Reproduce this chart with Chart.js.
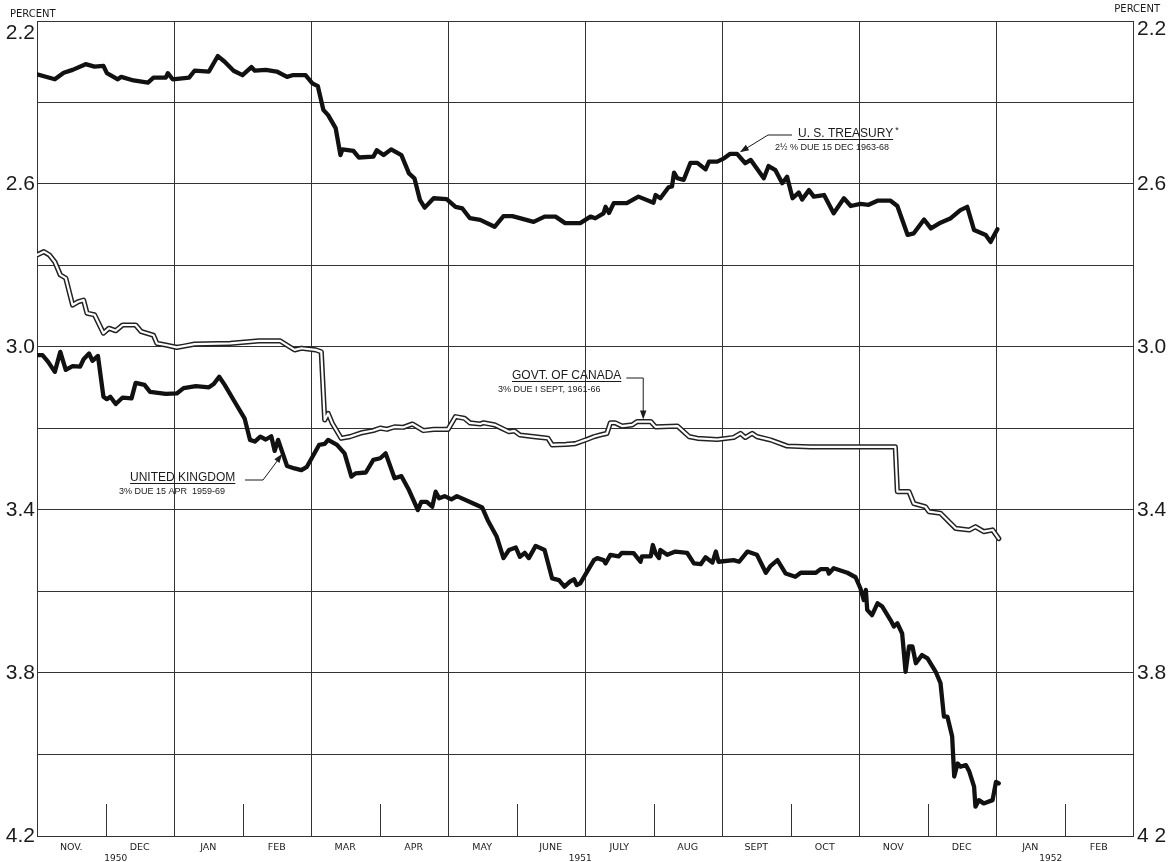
<!DOCTYPE html>
<html><head><meta charset="utf-8">
<script src="https://cdn.jsdelivr.net/npm/chart.js@4.4.1/dist/chart.umd.min.js"></script>
<style>html,body{margin:0;padding:0;background:#fff}#wrap{width:1176px;height:862px;position:relative}</style>
</head><body><div id="wrap"><canvas id="c"></canvas></div>
<script>
// months counted from 1 Nov 1950 (0) to 1 Mar 1952 (16)
const monthLabels = ['NOV.','DEC','JAN','FEB','MAR','APR','MAY','JUNE','JULY','AUG','SEPT','OCT','NOV','DEC','JAN','FEB'];
const yearLabels = ['1950','1951','1952'];
const yGridValues = [2.2,2.4,2.6,2.8,3.0,3.2,3.4,3.6,3.8,4.0,4.2];
const yLeftLabels = ['2.2','2.6','3.0','3.4','3.8','4.2'];
const yRightLabels = ['2.2','2.6','3.0','3.4','3.8','4 2'];
const xGridMonths = [0,2,4,6,8,10,12,14,16];

const usMonths = [0,0.26,0.39,0.52,0.71,0.84,0.97,1.02,1.18,1.23,1.41,1.62,1.70,1.88,1.91,1.98,2.22,2.30,2.51,2.64,2.74,2.87,3.00,3.13,3.18,3.34,3.50,3.65,3.73,3.92,4.02,4.10,4.18,4.25,4.36,4.43,4.46,4.62,4.70,4.91,4.96,5.06,5.17,5.32,5.43,5.51,5.59,5.66,5.79,5.98,6.11,6.21,6.32,6.47,6.68,6.81,6.94,7.25,7.41,7.57,7.71,7.93,8.08,8.15,8.27,8.30,8.35,8.42,8.61,8.78,9.00,9.03,9.10,9.22,9.27,9.30,9.35,9.44,9.54,9.64,9.76,9.81,9.93,10.03,10.12,10.22,10.34,10.42,10.61,10.68,10.78,10.88,10.95,11.03,11.12,11.17,11.27,11.34,11.49,11.63,11.78,11.88,12.02,12.14,12.27,12.46,12.56,12.71,12.80,12.95,13.05,13.19,13.34,13.48,13.58,13.68,13.85,13.92,14.02];
const usYield = [2.331,2.343,2.327,2.320,2.306,2.312,2.310,2.328,2.343,2.337,2.346,2.351,2.339,2.339,2.328,2.343,2.339,2.322,2.324,2.286,2.300,2.322,2.333,2.313,2.322,2.320,2.324,2.337,2.333,2.333,2.353,2.360,2.418,2.431,2.463,2.529,2.515,2.519,2.535,2.533,2.517,2.529,2.515,2.529,2.574,2.586,2.639,2.658,2.635,2.637,2.656,2.660,2.684,2.688,2.705,2.679,2.679,2.693,2.680,2.680,2.696,2.696,2.680,2.684,2.672,2.656,2.671,2.647,2.647,2.631,2.646,2.627,2.635,2.608,2.606,2.572,2.586,2.590,2.548,2.548,2.564,2.545,2.545,2.537,2.526,2.526,2.549,2.541,2.586,2.556,2.566,2.598,2.582,2.635,2.621,2.638,2.615,2.631,2.627,2.672,2.635,2.654,2.649,2.651,2.641,2.641,2.654,2.725,2.721,2.687,2.709,2.695,2.684,2.664,2.656,2.713,2.725,2.742,2.711];

const caMonths = [0,0.10,0.18,0.26,0.34,0.42,0.52,0.60,0.68,0.73,0.84,0.97,1.05,1.15,1.25,1.44,1.52,1.70,1.75,1.88,2.04,2.14,2.30,2.82,3.24,3.55,3.76,3.86,4.07,4.15,4.20,4.25,4.31,4.44,4.57,4.75,4.91,5.01,5.11,5.22,5.35,5.48,5.64,5.79,6.00,6.11,6.24,6.32,6.47,6.52,6.68,6.89,6.97,7.05,7.25,7.46,7.52,7.72,7.86,8.01,8.13,8.22,8.32,8.37,8.44,8.54,8.69,8.76,8.96,9.03,9.35,9.52,9.64,9.93,10.08,10.17,10.27,10.34,10.44,10.51,10.71,10.95,11.29,12.53,12.56,12.73,12.80,12.97,13.02,13.19,13.41,13.61,13.70,13.82,13.95,14.04];
const caYield = [2.774,2.766,2.774,2.791,2.823,2.831,2.897,2.889,2.885,2.917,2.921,2.966,2.954,2.960,2.946,2.946,2.962,2.971,2.991,2.995,3.001,2.998,2.993,2.991,2.985,2.985,3.007,3.003,3.007,3.012,3.179,3.163,3.187,3.224,3.220,3.210,3.205,3.199,3.202,3.196,3.197,3.189,3.205,3.202,3.202,3.171,3.175,3.186,3.189,3.186,3.191,3.208,3.206,3.216,3.220,3.224,3.240,3.239,3.237,3.228,3.220,3.216,3.212,3.186,3.186,3.194,3.191,3.183,3.183,3.196,3.194,3.220,3.224,3.227,3.224,3.222,3.212,3.222,3.212,3.220,3.228,3.243,3.245,3.245,3.355,3.355,3.384,3.392,3.404,3.408,3.445,3.449,3.441,3.453,3.449,3.470];

const ukMonths = [0,0.08,0.16,0.26,0.34,0.42,0.52,0.63,0.68,0.76,0.81,0.89,0.97,1.02,1.07,1.15,1.25,1.38,1.44,1.57,1.65,1.88,2.04,2.14,2.32,2.51,2.58,2.66,2.74,2.87,3.03,3.11,3.18,3.26,3.34,3.42,3.47,3.52,3.65,3.76,3.86,3.94,4.12,4.20,4.25,4.38,4.49,4.59,4.65,4.80,4.91,5.01,5.09,5.22,5.32,5.43,5.56,5.61,5.69,5.77,5.82,5.87,5.95,6.05,6.13,6.37,6.50,6.58,6.71,6.81,6.89,6.99,7.05,7.12,7.18,7.28,7.41,7.52,7.62,7.70,7.78,7.84,7.88,7.93,8.13,8.18,8.27,8.30,8.37,8.49,8.54,8.71,8.81,8.83,8.96,8.99,9.03,9.08,9.10,9.20,9.32,9.49,9.59,9.69,9.76,9.86,9.91,9.95,10.17,10.25,10.37,10.51,10.64,10.71,10.81,10.93,11.07,11.15,11.37,11.44,11.54,11.56,11.63,11.83,11.95,12.02,12.07,12.10,12.12,12.19,12.27,12.34,12.46,12.51,12.56,12.63,12.68,12.73,12.78,12.83,12.92,13.00,13.12,13.19,13.24,13.29,13.36,13.39,13.44,13.48,13.56,13.61,13.68,13.70,13.75,13.82,13.95,14.00,14.04];
const ukYield = [3.020,3.020,3.036,3.061,3.012,3.056,3.047,3.048,3.030,3.016,3.034,3.022,3.122,3.128,3.122,3.140,3.124,3.126,3.088,3.093,3.110,3.115,3.114,3.101,3.096,3.099,3.091,3.073,3.093,3.130,3.175,3.228,3.232,3.220,3.227,3.219,3.255,3.228,3.292,3.298,3.302,3.294,3.240,3.238,3.228,3.240,3.261,3.318,3.310,3.308,3.277,3.273,3.261,3.322,3.317,3.351,3.400,3.380,3.380,3.392,3.355,3.371,3.366,3.374,3.366,3.384,3.394,3.425,3.465,3.518,3.498,3.492,3.515,3.505,3.518,3.488,3.498,3.568,3.572,3.588,3.576,3.570,3.584,3.580,3.523,3.518,3.523,3.531,3.510,3.514,3.505,3.506,3.527,3.514,3.514,3.486,3.506,3.518,3.498,3.510,3.502,3.505,3.531,3.533,3.516,3.529,3.502,3.527,3.523,3.527,3.502,3.510,3.554,3.537,3.523,3.556,3.564,3.554,3.554,3.545,3.545,3.556,3.543,3.554,3.565,3.592,3.621,3.596,3.645,3.658,3.629,3.637,3.670,3.686,3.678,3.703,3.797,3.735,3.735,3.776,3.756,3.764,3.797,3.825,3.907,3.907,3.956,4.054,4.022,4.030,4.026,4.042,4.079,4.128,4.112,4.120,4.112,4.067,4.071];

const pts = (xs, ys) => xs.map((x, i) => ({x, y: ys[i]}));
const INK = '#1b1b1b';
const GRID = '#333333';

const decor = {
  id: 'decor',
  afterDatasetsDraw(chart) {
    const {ctx, chartArea: a, scales: {x, y}} = chart;
    const X = m => x.getPixelForValue(m), Y = v => y.getPixelForValue(v);
    ctx.save();
    // minor month ticks at bottom
    ctx.strokeStyle = GRID; ctx.lineWidth = 1;
    for (let m = 1; m < 16; m += 2) {
      const px = Math.round(X(m)) + 0.5;
      ctx.beginPath(); ctx.moveTo(px, a.bottom); ctx.lineTo(px, a.bottom - 32); ctx.stroke();
    }
    ctx.fillStyle = INK;
    // top tick labels sit just below the top rule in the original
    ctx.font = '21px "Liberation Sans"';
    ctx.textBaseline = 'middle';
    ctx.textAlign = 'right'; ctx.fillText(yLeftLabels[0], a.left - 2, Y(2.2) + 12);
    ctx.textAlign = 'left'; ctx.fillText(yRightLabels[0], a.right + 4, Y(2.2) + 8);
    ctx.textBaseline = 'alphabetic';
    // PERCENT
    ctx.font = '10px "DejaVu Sans"';
    ctx.textAlign = 'left'; ctx.fillText('PERCENT', 10, 17);
    ctx.textAlign = 'right'; ctx.fillText('PERCENT', 1160, 12);
    // years
    ctx.font = '9px "DejaVu Sans"'; ctx.textAlign = 'center';
    const yearPos = [1.15, 7.93, 14.8];
    yearLabels.forEach((t, i) => ctx.fillText(t, X(yearPos[i]), 861));

    const arrow = (x0, y0, x1, y1) => {
      const ang = Math.atan2(y1 - y0, x1 - x0), L = 9, W = 3.2;
      ctx.beginPath();
      ctx.moveTo(x1, y1);
      ctx.lineTo(x1 - L*Math.cos(ang) + W*Math.sin(ang), y1 - L*Math.sin(ang) - W*Math.cos(ang));
      ctx.lineTo(x1 - L*Math.cos(ang) - W*Math.sin(ang), y1 - L*Math.sin(ang) + W*Math.cos(ang));
      ctx.closePath(); ctx.fill();
    };
    const label = (title, sub, tx, ty, sx, sy, star) => {
      ctx.textAlign = 'left';
      ctx.font = '12px "Liberation Sans"';
      ctx.fillText(title, tx, ty);
      const w = ctx.measureText(title).width;
      ctx.lineWidth = 1; ctx.beginPath(); ctx.moveTo(tx, ty + 2.5); ctx.lineTo(tx + w, ty + 2.5); ctx.stroke();
      if (star) { ctx.font = '9px "Liberation Sans"'; ctx.fillText('*', tx + w + 2, ty - 4); }
      ctx.font = '9px "Liberation Sans"';
      ctx.fillText(sub, sx, sy);
      return w;
    };
    ctx.strokeStyle = INK;
    // US Treasury
    label('U. S. TREASURY', '2\u00BD % DUE 15 DEC 1963-68', 798, 137, 775, 150, true);
    ctx.lineWidth = 1;
    ctx.beginPath(); ctx.moveTo(792, 135); ctx.lineTo(768, 135); ctx.lineTo(742, 151); ctx.stroke();
    arrow(768, 135, X(10.26), Y(2.522));
    // Canada
    const cw = label('GOVT. OF CANADA', '3% DUE I SEPT, 1961-66', 512, 379, 498, 392, false);
    ctx.lineWidth = 1;
    ctx.beginPath(); ctx.moveTo(512 + cw + 5, 378); ctx.lineTo(X(8.85), 378); ctx.lineTo(X(8.85), Y(3.165)); ctx.stroke();
    arrow(X(8.85), 378, X(8.85), Y(3.178));
    // United Kingdom
    label('UNITED KINGDOM', '3% DUE 15 APR  1959-69', 130, 481, 119, 494, false);
    ctx.lineWidth = 1;
    ctx.beginPath(); ctx.moveTo(245, 480); ctx.lineTo(263, 480); ctx.lineTo(X(3.55), Y(3.27)); ctx.stroke();
    arrow(263, 480, X(3.58), Y(3.262));
    ctx.restore();
  }
};

new Chart(document.getElementById('c'), {
  type: 'line',
  data: {
    datasets: [
      {label: 'U.S. Treasury', data: pts(usMonths, usYield), borderColor: '#111', borderWidth: 4.3, order: 3},
      {label: 'United Kingdom', data: pts(ukMonths, ukYield), borderColor: '#111', borderWidth: 4.3, order: 4},
      {label: 'Govt. of Canada', data: pts(caMonths, caYield), borderColor: '#ffffff', borderWidth: 2.2, order: 1},
      {label: 'Govt. of Canada outline', data: pts(caMonths, caYield), borderColor: '#222', borderWidth: 5.2, order: 2}
    ]
  },
  options: {
    responsive: true, maintainAspectRatio: false, animation: false,
    layout: {padding: {top: 21, left: 0, right: 0, bottom: 0}},
    elements: {point: {radius: 0}, line: {tension: 0, borderJoinStyle: 'round', borderCapStyle: 'round'}},
    plugins: {legend: {display: false}, tooltip: {enabled: false}},
    scales: {
      x: {
        type: 'linear', min: 0, max: 16, position: 'bottom',
        afterBuildTicks: s => { s.ticks = xGridMonths.map(v => ({value: v})); },
        ticks: {display: false},
        grid: {color: GRID, lineWidth: 1, drawTicks: false},
        border: {display: true, color: GRID, width: 1},
        afterFit: s => { s.height = 0; }
      },
      xm: {
        type: 'linear', min: 0, max: 16, position: 'bottom',
        afterBuildTicks: s => { s.ticks = monthLabels.map((_, i) => ({value: i + 0.5})); },
        ticks: {autoSkip: false, maxRotation: 0, padding: 6, color: INK, font: {family: 'DejaVu Sans', size: 9.5},
          callback: (v, i) => monthLabels[i]},
        grid: {display: false, drawTicks: false},
        border: {display: false},
        afterFit: s => { s.height = 26; }
      },
      y: {
        type: 'linear', position: 'left', reverse: true, min: 2.2, max: 4.2,
        afterBuildTicks: s => { s.ticks = yGridValues.map(v => ({value: v})); },
        ticks: {padding: 2, color: INK, font: {family: 'Liberation Sans', size: 21},
          callback: v => { const t = v.toFixed(1); return (t !== yLeftLabels[0] && yLeftLabels.includes(t)) ? t : ''; }},
        grid: {color: GRID, lineWidth: 1, drawTicks: false},
        border: {display: true, color: GRID, width: 1},
        afterFit: s => { s.width = 37; }
      },
      y2: {
        type: 'linear', position: 'right', reverse: true, min: 2.2, max: 4.2,
        afterBuildTicks: s => { s.ticks = yGridValues.map(v => ({value: v})); },
        ticks: {padding: 4, color: INK, font: {family: 'Liberation Sans', size: 21},
          callback: v => { const t = v.toFixed(1); const k = yLeftLabels.indexOf(t); return k > 0 ? yRightLabels[k] : ''; }},
        grid: {drawOnChartArea: false, drawTicks: false},
        border: {display: true, color: GRID, width: 1},
        afterFit: s => { s.width = 43; }
      }
    }
  },
  plugins: [decor]
});
</script>
</body></html>
